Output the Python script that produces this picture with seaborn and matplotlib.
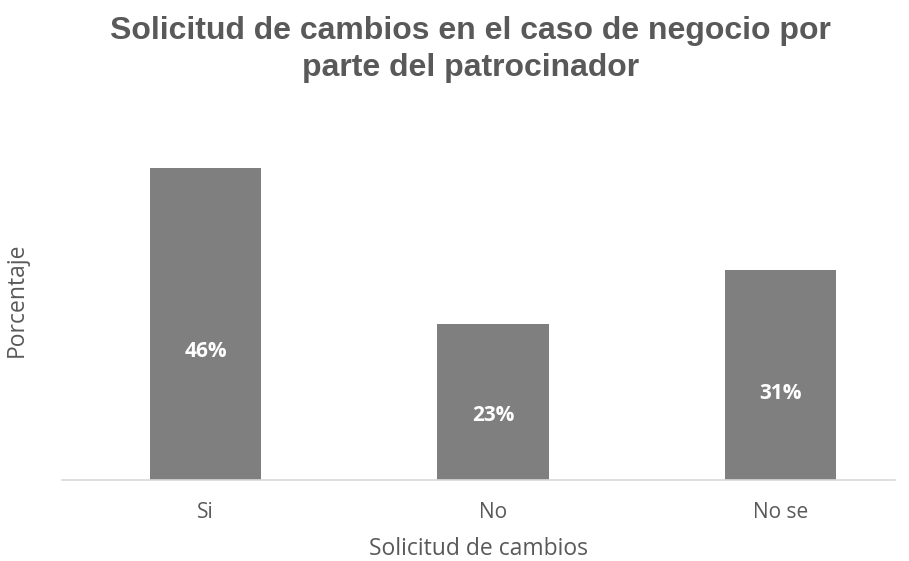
import matplotlib
matplotlib.use("Agg")
import matplotlib.pyplot as plt
import seaborn as sns
import pandas as pd

categorias = ["Si", "No", "No se"]
porcentajes = [46, 23, 31]

sns.set_theme(style="white")
plt.rcParams["font.family"] = ["Open Sans", "DejaVu Sans"]

df = pd.DataFrame({"respuesta": categorias, "porcentaje": porcentajes})

fig = plt.figure(figsize=(9.09, 5.61), dpi=100)
ax = fig.add_axes([0.068, 0.1444, 0.917, 0.605])

sns.barplot(data=df, x="respuesta", y="porcentaje", color="#7f7f7f",
            saturation=1, width=0.387, ax=ax)
for p in ax.patches:
    p.set_edgecolor("none")

ax.set_xlim(-0.5, 2.40)
ax.set_ylim(0, 50)

for i, v in enumerate(porcentajes):
    ax.text(i, v * 0.41, f"{v}%", ha="center", va="center",
            color="white", fontsize=15, fontweight="bold")

for side in ["top", "right", "left"]:
    ax.spines[side].set_visible(False)
ax.spines["bottom"].set_color("#d9d9d9")
ax.spines["bottom"].set_linewidth(1.2)
ax.set_yticks([])
ax.tick_params(axis="x", length=0, labelsize=15, labelcolor="#595959", pad=16)

ax.set_xlabel("Solicitud de cambios", fontsize=16.5, color="#595959", labelpad=10)
ax.set_ylabel("Porcentaje", fontsize=16.5, color="#595959")
ax.yaxis.set_label_coords(-0.040, 0.531)

fig.suptitle("Solicitud de cambios en el caso de negocio por\nparte del patrocinador",
             x=0.518, y=0.972, fontsize=23, fontweight="bold", color="#595959",
             family="Liberation Sans", linespacing=1.3)

fig.savefig("out.png", dpi=100, facecolor="white")
